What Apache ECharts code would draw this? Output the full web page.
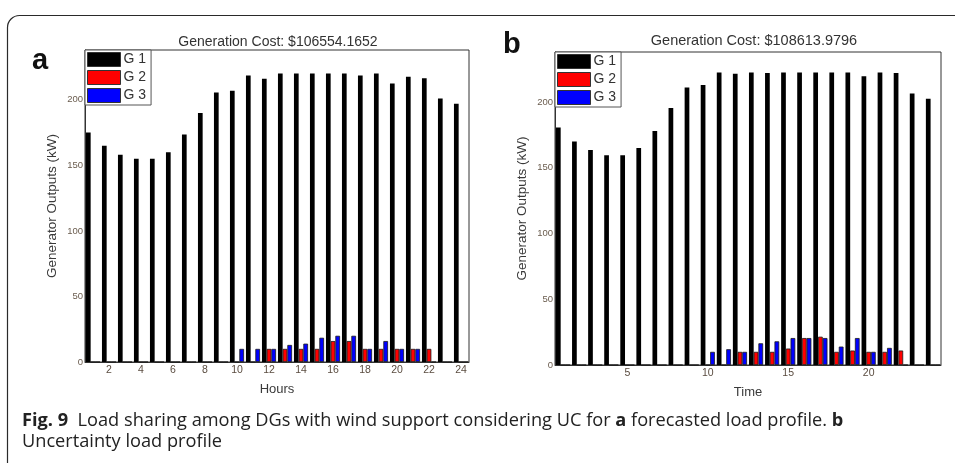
<!DOCTYPE html>
<html>
<head>
<meta charset="utf-8">
<script src="https://cdn.jsdelivr.net/npm/echarts@6/dist/echarts.min.js"></script>
<style>
  html, body { margin: 0; padding: 0; background: #fff; }
  #chart { width: 955px; height: 463px; }
</style>
</head>
<body>
<div id="chart"></div>
<script>
// Hours of the day (1..24)
const hours = ['1','2','3','4','5','6','7','8','9','10','11','12','13','14','15','16','17','18','19','20','21','22','23','24'];

// (a) forecasted load profile, generator outputs in kW
const g1Forecast = [175, 165, 158, 155, 155, 160, 173.5, 190, 205.5, 207, 218.5, 216, 220, 220, 220, 220, 220, 218.5, 220, 212.5, 217.5, 216.5, 201, 197];
const g2Forecast = [0, 0, 0, 0, 0, 0, 0, 0, 0, 0, 0, 10, 10, 10, 10, 16, 16, 10, 10, 10, 10, 10, 0, 0];
const g3Forecast = [0, 0, 0, 0, 0, 0, 0, 0, 0, 10, 10, 10, 13, 14, 18.5, 20, 20, 10, 16, 10, 10, 0, 0, 0];

// (b) uncertainty load profile, generator outputs in kW
const g1Uncertain = [180.5, 170, 163.5, 159.5, 159.5, 165, 178, 195.5, 211, 213, 222.5, 221.5, 222.5, 222, 222.5, 222.5, 222.5, 222.5, 222.5, 219.5, 222.5, 222, 206.5, 202.5];
const g2Uncertain = [0, 0, 0, 0, 0, 0, 0, 0, 0, 0, 0, 10, 10, 10, 12.5, 20.5, 21.5, 10, 11, 10, 10, 11, 0, 0];
const g3Uncertain = [0, 0, 0, 0, 0, 0, 0, 0, 0, 10, 12, 10, 16.5, 18, 20.5, 20.5, 20.5, 14, 20.5, 10, 13, 0, 0, 0];

const costA = 'Generation Cost: $106554.1652';
const costB = 'Generation Cost: $108613.9796';

const seriesNames = ['G1', 'G2', 'G3'];
const seriesColors = ['#000000', '#ff0000', '#0000ff'];

const FONT = '"Liberation Sans", Arial, sans-serif';
const CAPTION_FONT = '"Open Sans", sans-serif';

const chart = echarts.init(document.getElementById('chart'), null, { renderer: 'canvas' });

function barSeries(name, color, data, idx) {
  return {
    name: name,
    type: 'bar',
    xAxisIndex: idx,
    yAxisIndex: idx,
    data: data,
    barGap: '0%',
    barCategoryGap: '12%',
    itemStyle: { color: color, borderColor: '#1a1a1a', borderWidth: color === '#000000' ? 0 : 0.8 },
    emphasis: { disabled: true },
    animation: false
  };
}

function yAxisCfg(idx) {
  return {
    type: 'value',
    gridIndex: idx,
    min: 0,
    max: 238,
    interval: 50,
    name: 'Generator Outputs (kW)',
    nameLocation: 'middle',
    nameGap: 26,
    nameRotate: 90,
    nameTextStyle: { fontFamily: FONT, fontSize: 13.5, color: '#3a3a3a' },
    axisLine: { show: true, lineStyle: { color: '#333', width: 1 } },
    axisTick: { show: false },
    splitLine: { show: false },
    axisLabel: { fontFamily: FONT, fontSize: 9.5, color: '#6a5c4e', margin: 2, showMaxLabel: false }
  };
}

function xAxisCfg(idx, name, every, gap) {
  return {
    type: 'category',
    gridIndex: idx,
    data: hours,
    name: name,
    nameLocation: 'middle',
    nameGap: gap,
    nameTextStyle: { fontFamily: FONT, fontSize: 13, color: '#3a3a3a' },
    axisLine: { show: true, lineStyle: { color: '#333', width: 1 } },
    axisTick: { show: false },
    splitLine: { show: false },
    axisLabel: {
      fontFamily: FONT, fontSize: 10.5, color: '#5a4c40', margin: 3,
      interval: function (index) { return (index + 1) % every === 0; }
    }
  };
}

function legendCfg(left, top) {
  return {
    orient: 'vertical',
    left: left,
    top: top,
    data: seriesNames,
    icon: 'rect',
    itemWidth: 33,
    itemHeight: 14,
    itemGap: 3,
    padding: [2, 5, 2, 2],
    backgroundColor: '#fff',
    borderColor: '#555',
    borderWidth: 1,
    borderRadius: 0,
    selectedMode: false,
    itemStyle: { borderColor: '#333', borderWidth: 1 },
    textStyle: { fontFamily: FONT, fontSize: 14, color: '#333', padding: [0, 0, 0, -2] },
    formatter: function (n) { return n.charAt(0) + ' ' + n.slice(1); }
  };
}

const option = {
  backgroundColor: '#fff',
  animation: false,
  title: [
    { text: costA, left: 273, top: 30, textAlign: 'center',
      textStyle: { fontFamily: FONT, fontSize: 14, fontWeight: 'normal', color: '#333' } },
    { text: costB, left: 749, top: 28, textAlign: 'center',
      textStyle: { fontFamily: FONT, fontSize: 14.5, fontWeight: 'normal', color: '#333' } }
  ],
  legend: [legendCfg(85, 50), legendCfg(555, 52)],
  grid: [
    { left: 85, right: 486, top: 50, bottom: 101, show: true, borderColor: '#333', borderWidth: 1, backgroundColor: '#fff' },
    { left: 555, right: 14, top: 52, bottom: 98, show: true, borderColor: '#333', borderWidth: 1, backgroundColor: '#fff' }
  ],
  xAxis: [xAxisCfg(0, 'Hours', 2, 21), xAxisCfg(1, 'Time', 5, 21)],
  yAxis: [yAxisCfg(0), yAxisCfg(1)],
  series: [
    barSeries(seriesNames[0], seriesColors[0], g1Forecast, 0),
    barSeries(seriesNames[1], seriesColors[1], g2Forecast, 0),
    barSeries(seriesNames[2], seriesColors[2], g3Forecast, 0),
    barSeries(seriesNames[0], seriesColors[0], g1Uncertain, 1),
    barSeries(seriesNames[1], seriesColors[1], g2Uncertain, 1),
    barSeries(seriesNames[2], seriesColors[2], g3Uncertain, 1)
  ],
  graphic: [
    // rounded figure frame
    { type: 'rect', shape: { x: 7.5, y: 15.5, width: 970, height: 460, r: 12 },
      style: { fill: 'none', stroke: '#2a2a2a', lineWidth: 1.2 }, silent: true, z: -1 },
    // panel letters
    { type: 'text', left: 32, top: 46, style: { text: 'a', font: 'bold 29px ' + FONT, fill: '#111' } },
    { type: 'text', left: 503, top: 30, style: { text: 'b', font: 'bold 29px ' + FONT, fill: '#111' } },
    // caption
    { type: 'text', left: 22, top: 410,
      style: {
        text: '{b|Fig. 9}  Load sharing among DGs with wind support considering UC for {b|a} forecasted load profile. {b|b}\nUncertainty load profile',
        font: '18.2px ' + CAPTION_FONT,
        fill: '#222',
        lineHeight: 21,
        rich: {
          b: { font: 'bold 18.2px ' + CAPTION_FONT, fill: '#222' }
        }
      } }
  ]
};

chart.setOption(option);
</script>
</body>
</html>
